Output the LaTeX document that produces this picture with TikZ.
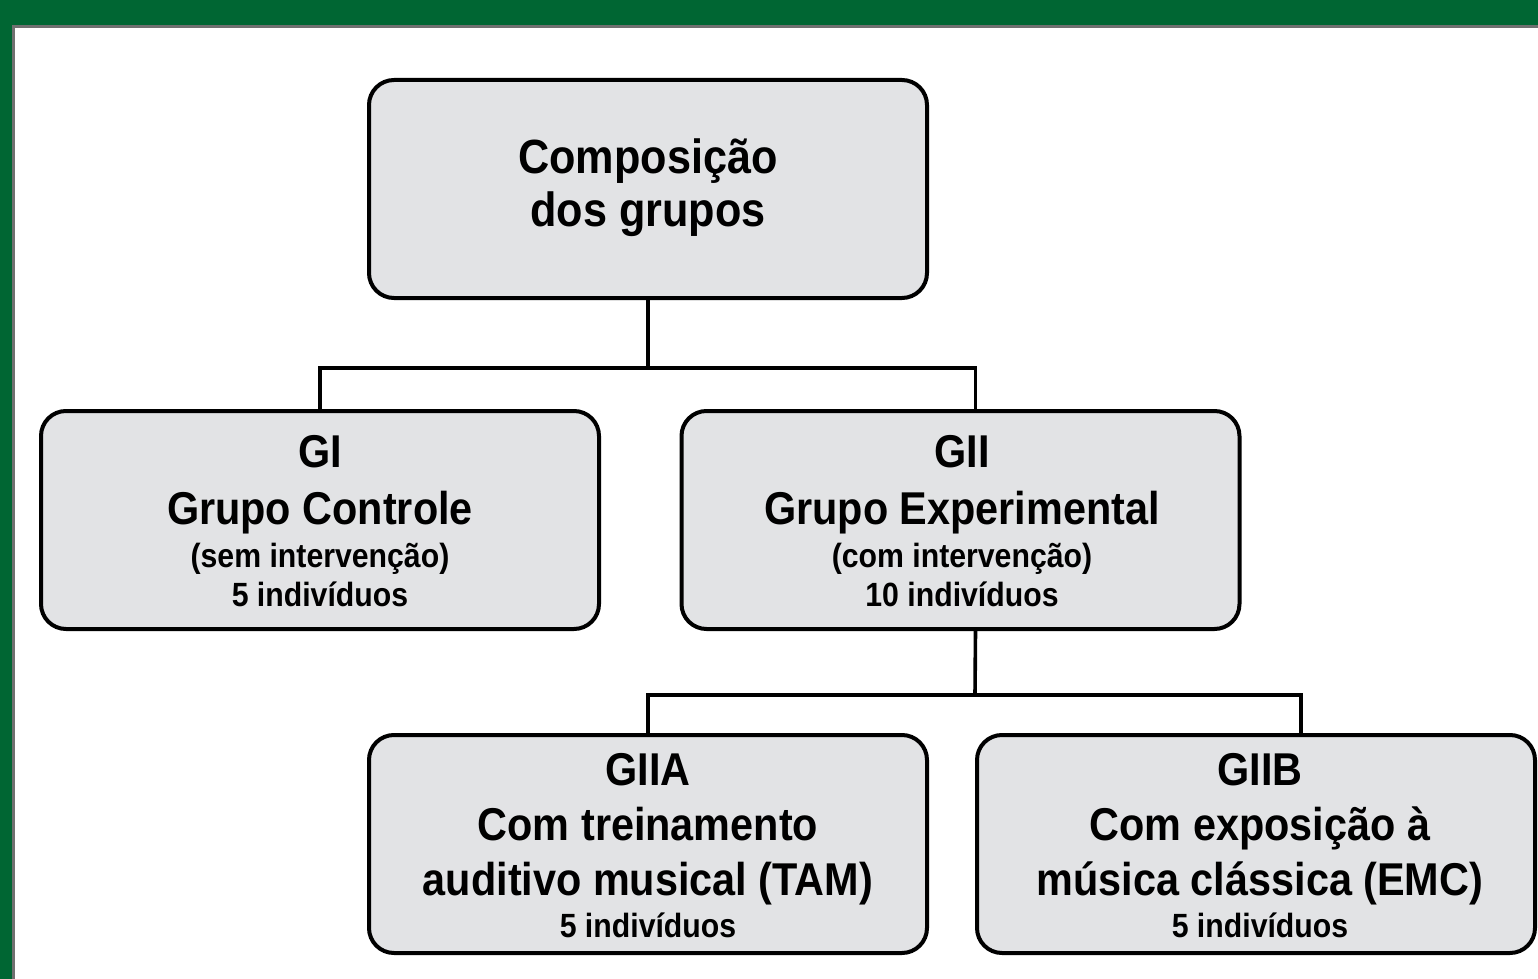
\documentclass[tikz,border=0pt]{standalone}
\usepackage{fontspec}
\setmainfont[FakeStretch=0.9]{Liberation Sans}

\definecolor{bandgreen}{HTML}{006633}
\definecolor{framegray}{HTML}{707070}
\definecolor{boxgray}{HTML}{E2E3E5}

\tikzset{
    grp/.style={draw=black,line width=2pt,fill=boxgray,rounded corners=12.5pt,
        minimum width=279pt,minimum height=109pt,inner sep=0pt},
    link/.style={line width=1.8pt},
    big/.style={font=\bfseries\fontsize{23}{27}\selectfont},
    small/.style={font=\bfseries\fontsize{16.8}{20}\selectfont},
}

\begin{document}
\begin{tikzpicture}[x=0.5pt,y=-0.5pt]
    \useasboundingbox (0,0) rectangle (1538,979);
    \fill[bandgreen] (0,0) rectangle (1538,979);
    \fill[white] (13.5,26.5) rectangle (1538,979);
    \draw[framegray,line width=1.5pt] (13.5,979) -- (13.5,26.5) -- (1538,26.5);

    % boxes
    \node[grp] (comp) at (648,189)  {};
    \node[grp] (gi)   at (320,520)  {};
    \node[grp] (gii)  at (960.5,520) {};
    \node[grp] (giia) at (648,844)  {};
    \node[grp] (giib) at (1256,844) {};

    % connectors
    \coordinate (split1) at (648,368);
    \coordinate (split2) at (975,695);
    \draw[link] (comp.south) -- (split1);
    \draw[link] (gi.north) |- (split1) -| ([xshift=7.5pt]gii.north);
    \draw[link] ([xshift=7.5pt]gii.south) -- (split2);
    \draw[link] (giia.north) |- (split2) -| ([xshift=22.5pt]giib.north);

    \begin{scope}[every node/.style={anchor=base,inner sep=0pt}]
        \node[big,font=\bfseries\fontsize{24}{28}\selectfont] (comp1) at (648,174) {Composição};
        \node[big,font=\bfseries\fontsize{24}{28}\selectfont] (comp2) at (648,227) {dos grupos};

        \node[big]   (gi1) at (320,467) {GI};
        \node[big]   (gi2) at (320,524) {Grupo Controle};
        \node[small] (gi3) at (320,567) {(sem intervenção)};
        \node[small] (gi4) at (320,606) {5 indivíduos};

        \node[big]   (gii1) at (962,467) {GII};
        \node[big]   (gii2) at (962,524) {Grupo Experimental};
        \node[small] (gii3) at (962,567) {(com intervenção)};
        \node[small] (gii4) at (962,606) {10 indivíduos};

        \node[big]   (giia1) at (648,785) {GIIA};
        \node[big]   (giia2) at (648,840) {Com treinamento};
        \node[big]   (giia3) at (648,895) {auditivo musical (TAM)};
        \node[small] (giia4) at (648,937) {5 indivíduos};

        \node[big]   (giib1) at (1260,785) {GIIB};
        \node[big]   (giib2) at (1260,840) {Com exposição à};
        \node[big]   (giib3) at (1260,895) {música clássica (EMC)};
        \node[small] (giib4) at (1260,937) {5 indivíduos};
    \end{scope}
\end{tikzpicture}
\end{document}
